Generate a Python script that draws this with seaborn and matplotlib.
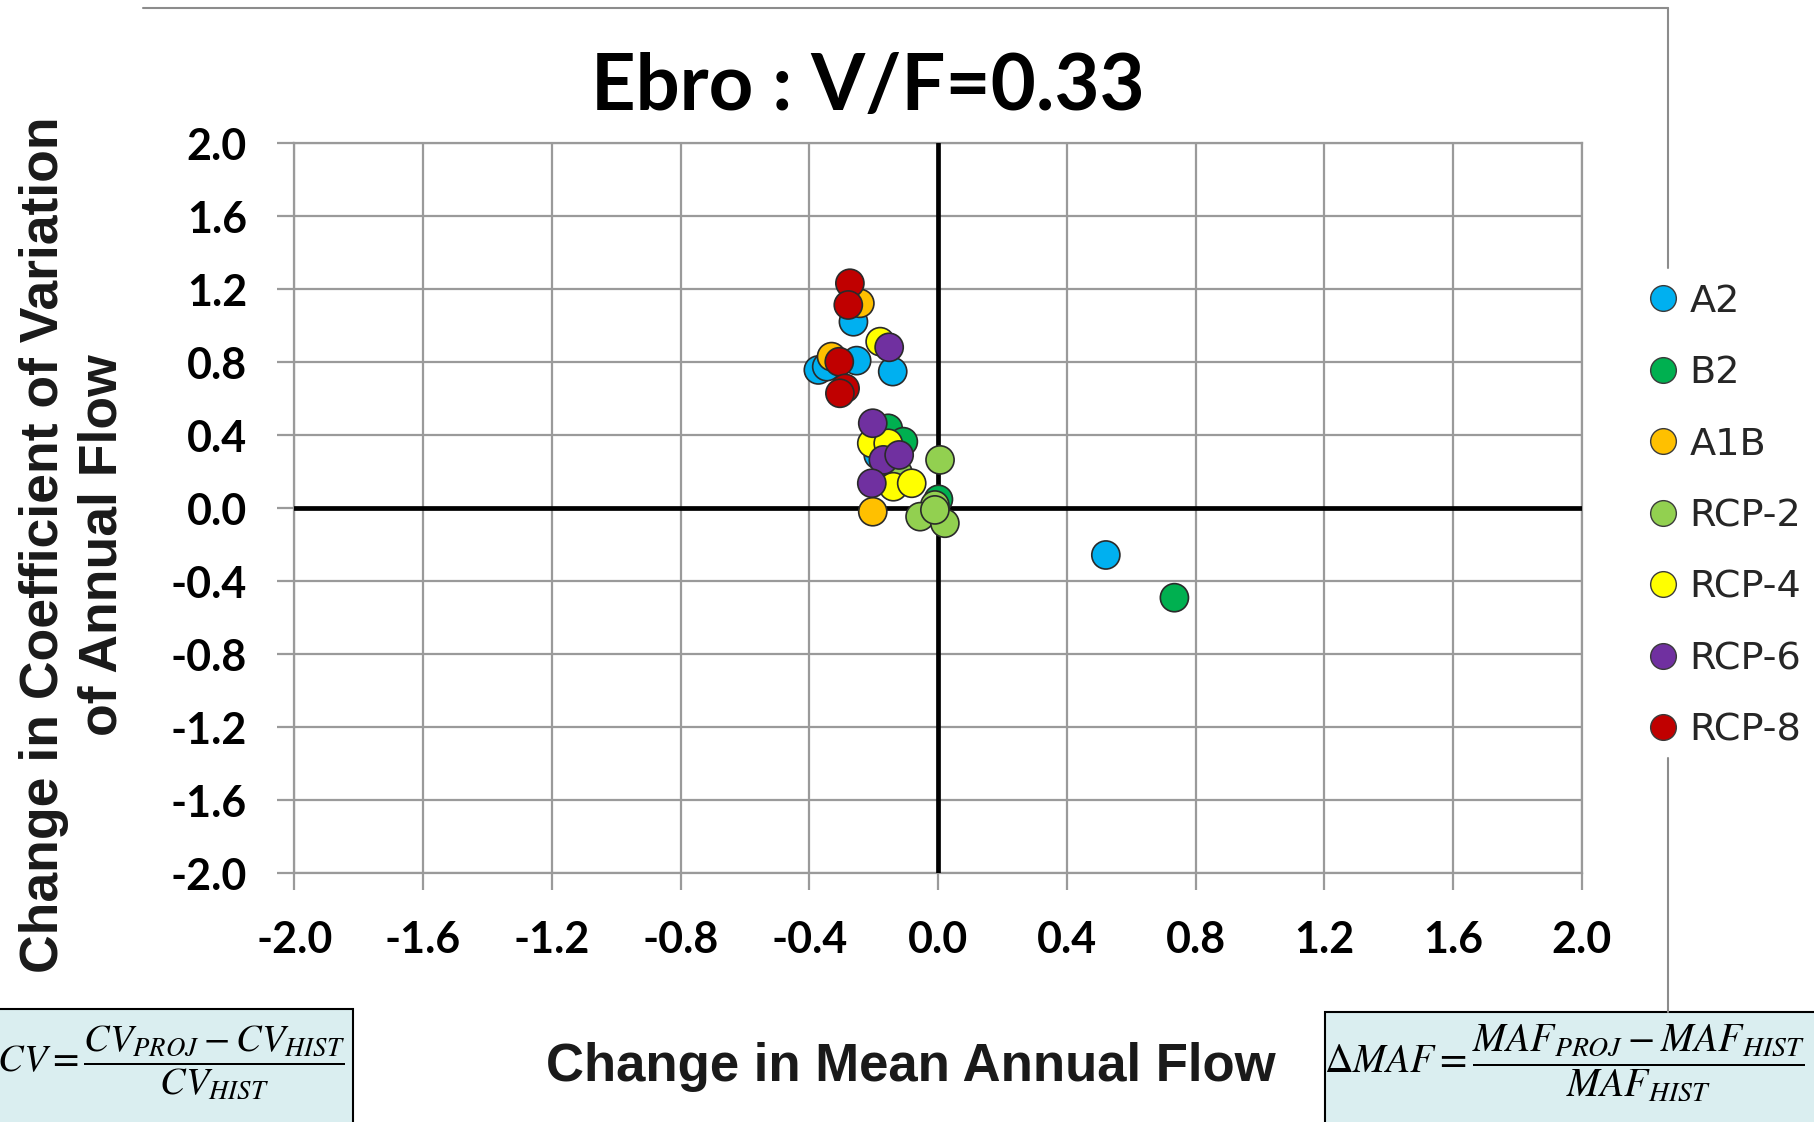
import matplotlib
matplotlib.use("Agg")
import matplotlib.pyplot as plt
import seaborn as sns
import pandas as pd
from matplotlib.lines import Line2D
from matplotlib.patches import Rectangle

# Emission scenarios and their marker colours
scenarios = ["A2", "B2", "A1B", "RCP-2", "RCP-4", "RCP-6", "RCP-8"]
colors = ["#00B0F0", "#00B050", "#FFC000", "#92D050", "#FFFF00", "#7030A0", "#C00000"]

# Change in mean annual flow (x) and change in CV of annual flow (y), per scenario
a2_maf = [-0.263, -0.141, -0.372, -0.346, -0.253, -0.186, 0.521]
a2_cv = [1.022, 0.749, 0.758, 0.776, 0.809, 0.292, -0.256]

b2_maf = [-0.155, -0.108, 0.001, 0.734]
b2_cv = [0.438, 0.365, 0.049, -0.490]

a1b_maf = [-0.243, -0.331, -0.203]
a1b_cv = [1.123, 0.831, -0.019]

rcp2_maf = [0.006, -0.124, -0.010, -0.056, 0.021, -0.010]
rcp2_cv = [0.265, 0.192, 0.018, -0.046, -0.082, -0.009]

rcp4_maf = [-0.180, -0.206, -0.155, -0.139, -0.082]
rcp4_cv = [0.913, 0.356, 0.356, 0.118, 0.137]

rcp6_maf = [-0.152, -0.203, -0.170, -0.121, -0.206]
rcp6_cv = [0.882, 0.466, 0.265, 0.292, 0.137]

rcp8_maf = [-0.274, -0.279, -0.307, -0.289, -0.305]
rcp8_cv = [1.233, 1.114, 0.803, 0.657, 0.630]

ticks = [-2.0, -1.6, -1.2, -0.8, -0.4, 0.0, 0.4, 0.8, 1.2, 1.6, 2.0]
tick_labels = [f"{t:.1f}" for t in ticks]

series = [
    (a2_maf, a2_cv), (b2_maf, b2_cv), (a1b_maf, a1b_cv), (rcp2_maf, rcp2_cv),
    (rcp4_maf, rcp4_cv), (rcp6_maf, rcp6_cv), (rcp8_maf, rcp8_cv),
]
rows = []
for name, (xs, ys) in zip(scenarios, series):
    for xv, yv in zip(xs, ys):
        rows.append({"scenario": name, "dMAF": xv, "dCV": yv})
df = pd.DataFrame(rows)

sns.set_theme(style="white")
plt.rcParams["font.family"] = ["Liberation Sans", "DejaVu Sans"]
plt.rcParams["mathtext.fontset"] = "stix"

fig = plt.figure(figsize=(18.14, 11.22), dpi=100)
fig.patch.set_facecolor("white")
ax = fig.add_axes([0.1622, 0.2217, 0.8721 - 0.1622, 0.8723 - 0.2217])

sns.scatterplot(
    data=df, x="dMAF", y="dCV", hue="scenario", hue_order=scenarios,
    palette=colors, s=410, edgecolor="#2a2a2a", linewidth=1.2, ax=ax,
    zorder=5, legend=False,
)

grid_gray = "#9a9a9a"
ax.set_xlim(-2.0, 2.0)
ax.set_ylim(-2.0, 2.0)
ax.set_xticks(ticks)
ax.set_yticks(ticks)
ax.set_xticklabels(tick_labels)
ax.set_yticklabels(tick_labels)
ax.grid(True, color=grid_gray, linewidth=1.6)
ax.set_axisbelow(True)
for side in ["left", "right", "top", "bottom"]:
    ax.spines[side].set_color(grid_gray)
    ax.spines[side].set_linewidth(1.6)
ax.tick_params(axis="both", which="major", direction="out", length=12,
               width=1.6, color=grid_gray, pad=22, labelsize=31,
               bottom=True, left=True)
for lab in ax.get_xticklabels() + ax.get_yticklabels():
    lab.set_fontfamily("Lato")
    lab.set_fontweight("bold")
    lab.set_color("black")

# Bold zero axes
ax.axhline(0, color="black", linewidth=3.4, zorder=3)
ax.axvline(0, color="black", linewidth=3.4, zorder=3)

ax.set_xlabel("Change in Mean Annual Flow", fontsize=38, fontweight="bold",
              color="#1a1a1a")
ax.xaxis.set_label_coords(0.479, -0.265)
ax.xaxis.label.set_va("center")

ax.set_ylabel("Change in Coefficient of Variation\nof Annual Flow", fontsize=38.5,
              fontweight="bold", color="#1a1a1a", linespacing=1.22,
              multialignment="center")
ax.yaxis.set_label_coords(-0.1718, 0.4498)
ax.yaxis.label.set_va("center")
ax.yaxis.label.set_ha("center")

fig.text(0.4785, 0.902, "Ebro : V/F=0.33", ha="center", va="baseline",
         fontsize=56, fontweight="bold", family="Lato", color="black")

# Legend
handles = [Line2D([0], [0], marker="o", linestyle="none", markersize=18.5,
                  markerfacecolor=c, markeredgecolor="#3a3a3a",
                  markeredgewidth=1.0) for c in colors]
ax.legend(handles, scenarios, loc="center left",
          bbox_to_anchor=(0.9062, 0.5400), bbox_transform=fig.transFigure,
          frameon=False, borderaxespad=0, borderpad=0,
          prop={"family": "DejaVu Sans", "size": 27.5},
          handlelength=1.0, handletextpad=0.2, labelspacing=0.93)

# Outer chart border (top and right edges)
border = "#8c8c8c"
fig.add_artist(Line2D([143 / 1814, 1668 / 1814], [1 - 8 / 1122, 1 - 8 / 1122],
                      color=border, linewidth=1.5))
fig.add_artist(Line2D([1668 / 1814, 1668 / 1814], [1 - 8 / 1122, 1 - 268 / 1122],
                      color=border, linewidth=1.5))
fig.add_artist(Line2D([1668 / 1814, 1668 / 1814], [1 - 758 / 1122, 1 - 1012 / 1122],
                      color=border, linewidth=1.5))

# Definition boxes
box_fill = "#DAEEF0"
fig.add_artist(Rectangle((-0.01, -0.01), 0.01 + 353 / 1814, 0.01 + 1 - 1009 / 1122,
                         facecolor=box_fill, edgecolor="black", linewidth=1.5,
                         transform=fig.transFigure))
fig.add_artist(Rectangle((1325 / 1814, -0.01), 1.01 - 1325 / 1814, 0.01 + 1 - 1012 / 1122,
                         facecolor=box_fill, edgecolor="black", linewidth=1.5,
                         transform=fig.transFigure))
fig.text(345 / 1814, 1 - 1063 / 1122,
         r"$\Delta CV = \dfrac{CV_{PROJ} - CV_{HIST}}{CV_{HIST}}$",
         ha="right", va="center", fontsize=27.5, color="black")
fig.text(1564 / 1814, 1 - 1063 / 1122,
         r"$\Delta MAF = \dfrac{MAF_{PROJ} - MAF_{HIST}}{MAF_{HIST}}$",
         ha="center", va="center", fontsize=28.5, color="black")

fig.savefig("out.png", dpi=100, facecolor="white")
